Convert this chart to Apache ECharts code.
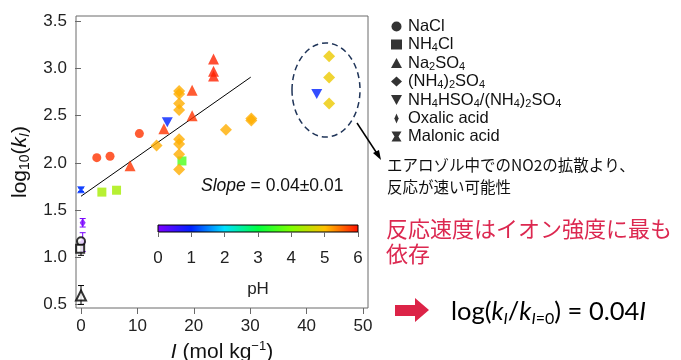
<!DOCTYPE html>
<html><head><meta charset="utf-8">
<script src="https://cdn.jsdelivr.net/npm/echarts@6/dist/echarts.min.js"></script>
<style>html,body{margin:0;padding:0;background:#fff}#c{width:681px;height:360px}</style>
</head><body><div id="c"></div>
<script>
// ---- data: [I (mol/kg), log10(k_I), pH, error] ----
const naclData    = [[2.8,2.055,5.8],[5.15,2.07,5.8],[10.35,2.31,5.8]];
const nh4clData   = [[3.7,1.69,4.3],[6.3,1.71,4.3],[17.9,2.02,3.6]];
const na2so4Data  = [[8.7,1.97,5.8],[14.7,2.36,5.8],[19.7,2.50,5.8],[19.7,2.77,5.8],[23.5,3.10,5.9],[23.5,2.97,5.9],[23.5,2.92,5.9]];
const nh42so4Data = [[13.4,2.185,5.1],[17.4,2.76,5.1],[17.4,2.73,5.1],[17.4,2.63,5.1],[17.4,2.56,5.1],[17.4,2.25,5.1],[17.4,2.20,5.1],[17.4,2.09,5.1],[17.4,1.93,5.1],[25.7,2.35,5.1],[30.2,2.47,5.1],[30.2,2.45,5.1],[44.0,3.13,4.85],[44.0,2.905,4.85],[44.0,2.63,4.85]];
const nh4hso4Data = [[15.3,2.43,1.0],[41.8,2.73,1.0]];
const oxalicData  = [[0.3,1.365,0.05,0.045],[0.3,1.16,0.05,0.1]];
const malonicData = [[0.0,1.715,1.1,0.02]];
const openCircleData   = [[0.0,1.17]];
const openSquareData   = [[-0.15,1.09]];
const openTriangleData = [[0.0,0.595]];
const blackErrData     = [[0.0,1.09,0,0.07],[0.0,0.6,0,0.1]];
const fitX = [0, 30.1];
const fitY = [1.646, 2.908];
const xTicks = [0,10,20,30,40,50];
const yTicks = [0.5,1.0,1.5,2.0,2.5,3.0,3.5];
const phTicks = [0,1,2,3,4,5,6];
const phColors = ['#7f00ff','#0020ff','#00e0ff','#00ff40','#7fff00','#ffc000','#ff1000'];
const seriesNames = ['NaCl','NH4Cl','Na2SO4','(NH4)2SO4','NH4HSO4/(NH4)2SO4','Oxalic acid','Malonic acid'];

const SANS = '"Liberation Sans", Arial, sans-serif';
const JP = '"Noto Sans CJK JP", sans-serif';
const FORM = 'Lato, sans-serif';

function subRich(name){
  let s = '{a|' + name.replace(/(\d)/g, '}{s|$1}{a|') + '}';
  return '{p|}' + s.replace(/\{a\|\}/g, '');
}
function errItem(params, api){
  const x = api.value(0), y = api.value(1), e = api.value(3);
  const t = api.coord([x, y + e]), b = api.coord([x, y - e]);
  const c = api.visual('color');
  const st = {stroke: c, lineWidth: 1};
  return {type:'group', children:[
    {type:'line', shape:{x1:t[0],y1:t[1],x2:b[0],y2:b[1]}, style:st},
    {type:'line', shape:{x1:t[0]-3,y1:t[1],x2:t[0]+3,y2:t[1]}, style:st},
    {type:'line', shape:{x1:b[0]-3,y1:b[1],x2:b[0]+3,y2:b[1]}, style:st}
  ]};
}

const chart = echarts.init(document.getElementById('c'), null, {renderer:'canvas'});
const axisGrey = '#6a6a6a';
const gradStops = phColors.map((c,i)=>({offset:i/(phColors.length-1), color:c}));

const option = {
  backgroundColor: '#fff',
  animation: false,
  textStyle: {fontFamily: SANS},
  grid: [
    {left:76, top:16, width:292, height:292, show:true, borderColor:axisGrey, borderWidth:1,
     backgroundColor:'transparent', outerBoundsMode:'none', containLabel:false},
    {left:158, top:225, width:200, height:7, show:true, borderColor:'#000', borderWidth:1,
     backgroundColor: new echarts.graphic.LinearGradient(0,0,1,0,gradStops), outerBoundsMode:'none', containLabel:false}
  ],
  xAxis: [
    {type:'value', gridIndex:0, min:-0.887, max:50.89,
     axisLine:{show:false}, splitLine:{show:false},
     axisTick:{show:true, inside:false, length:6, lineStyle:{color:axisGrey}, customValues:xTicks},
     axisLabel:{fontSize:17, color:'#222', margin:10, customValues:xTicks, fontFamily:SANS},
     name:'{i|I}{n| (mol kg}{sup|−1}{n|)}', nameLocation:'middle', nameGap:30,
     nameTextStyle:{rich:{
       n:{fontSize:21, fontFamily:SANS, color:'#111', lineHeight:24},
       i:{fontSize:21, fontFamily:SANS, fontStyle:'italic', color:'#111', lineHeight:24},
       sup:{fontSize:13, fontFamily:SANS, color:'#111', verticalAlign:'top', lineHeight:12}}}},
    {type:'value', gridIndex:1, min:0, max:6, interval:1,
     axisLine:{show:false}, splitLine:{show:false},
     axisTick:{show:true, length:5, lineStyle:{color:axisGrey}},
     axisLabel:{fontSize:17, color:'#222', margin:18, fontFamily:SANS},
     name:'pH', nameLocation:'middle', nameGap:49,
     nameTextStyle:{fontSize:17, color:'#222', fontFamily:SANS}}
  ],
  yAxis: [
    {type:'value', gridIndex:0, min:0.462, max:3.556,
     axisLine:{show:false}, splitLine:{show:false},
     axisTick:{show:true, length:6, lineStyle:{color:axisGrey}, customValues:yTicks},
     axisLabel:{fontSize:17, color:'#222', margin:9, customValues:yTicks, fontFamily:SANS,
       formatter: v => v.toFixed(1)},
     name:'{n|log}{s|10}{n|(}{i|k}{si|I}{n|)}', nameLocation:'middle', nameGap:44,
     nameTextStyle:{rich:{
       n:{fontSize:21, fontFamily:SANS, color:'#111', lineHeight:24},
       i:{fontSize:21, fontFamily:SANS, fontStyle:'italic', color:'#111', lineHeight:24},
       s:{fontSize:14, fontFamily:SANS, color:'#111', verticalAlign:'bottom', lineHeight:10},
       si:{fontSize:14, fontFamily:SANS, fontStyle:'italic', color:'#111', verticalAlign:'bottom', lineHeight:10}}}},
    {type:'value', gridIndex:1, min:0, max:1, show:false}
  ],
  visualMap: {
    type:'continuous', show:false, min:0, max:6, dimension:2,
    seriesIndex:[0,1,2,3,4,5,6,7],
    inRange:{color: phColors}
  },
  legend: {
    orient:'vertical', left:386, top:13, itemGap:1, itemWidth:11, itemHeight:10,
    selectedMode:false,
    data: [
      {name:seriesNames[0], icon:'circle', itemStyle:{color:'#000'}},
      {name:seriesNames[1], icon:'rect', itemStyle:{color:'#000'}},
      {name:seriesNames[2], icon:'triangle', itemStyle:{color:'#000'}},
      {name:seriesNames[3], icon:'diamond', itemStyle:{color:'#000'}},
      {name:seriesNames[4], icon:'path://M0,0L10,0L5,9Z', itemStyle:{color:'#000'}},
      {name:seriesNames[5], icon:'path://M3,0L6,7L3,14L0,7Z', itemStyle:{color:'#000'}},
      {name:seriesNames[6], icon:'path://M0,0L10,0L7,5L10,10L0,10L3,5Z', itemStyle:{color:'#000'}}
    ],
    formatter: n => subRich(n),
    textStyle:{rich:{
      p:{width:1, lineHeight:18},
      a:{fontSize:16.5, fontFamily:SANS, color:'#111', lineHeight:18},
      s:{fontSize:11, fontFamily:SANS, color:'#111', verticalAlign:'bottom', lineHeight:8}}}
  },
  series: [
    {name:seriesNames[0], type:'scatter', symbol:'circle', symbolSize:9, data:naclData, z:3},
    {name:seriesNames[1], type:'scatter', symbol:'rect', symbolSize:9, data:nh4clData, z:3},
    {name:seriesNames[2], type:'scatter', symbol:'triangle', symbolSize:11, data:na2so4Data, z:3},
    {name:seriesNames[3], type:'scatter', symbol:'diamond', symbolSize:12, data:nh42so4Data, z:3},
    {name:seriesNames[4], type:'scatter', symbol:'path://M0,0L10,0L5,9Z', symbolSize:[11,10], data:nh4hso4Data, z:3},
    {name:seriesNames[5], type:'scatter', symbol:'diamond', symbolSize:[6,9], data:oxalicData, z:4},
    {name:seriesNames[6], type:'scatter', symbol:'path://M0,0L10,0L7,5L10,10L0,10L3,5Z', symbolSize:[8,7], data:malonicData, z:4},
    {name:'errColored', type:'custom', renderItem:errItem, data:oxalicData.concat(malonicData), z:2},
    {name:'errBlack', type:'custom', renderItem:errItem, itemStyle:{color:'#000'}, data:blackErrData, z:2},
    {name:'openCircle', type:'scatter', symbol:'emptyCircle', symbolSize:8, itemStyle:{color:'#000', borderColor:'#000'}, data:openCircleData, z:5},
    {name:'openSquare', type:'scatter', symbol:'emptyRect', symbolSize:8, itemStyle:{color:'#000', borderColor:'#000'}, data:openSquareData, z:5},
    {name:'openTriangle', type:'scatter', symbol:'emptyTriangle', symbolSize:10, itemStyle:{color:'#000', borderColor:'#000'}, data:openTriangleData, z:5},
    {name:'fit', type:'line', data:fitX.map((x,i)=>[x,fitY[i]]), symbol:'none',
     lineStyle:{color:'#000', width:1}, z:2, silent:true}
  ],
  graphic: [
    {type:'text', x:201, y:186, style:{
      text:'{i|Slope}{n| = 0.04±0.01}', verticalAlign:'middle',
      rich:{i:{fontSize:17.5, fontStyle:'italic', fontFamily:SANS, fill:'#111'}, n:{fontSize:17.5, fontFamily:SANS, fill:'#111'}}}},
    {type:'ellipse', shape:{cx:326, cy:90, rx:34, ry:47},
     style:{fill:'none', stroke:'#1f3458', lineWidth:1.5, lineDash:[6,4]}},
    {type:'line', shape:{x1:357, y1:123, x2:378, y2:155}, style:{stroke:'#000', lineWidth:1.5}},
    {type:'polygon', shape:{points:[[381,160],[373,153],[379,150]]}, style:{fill:'#000'}},
    {type:'text', x:387, y:165, style:{text:'エアロゾル中でのNO2の拡散より、', font:'15.5px '+JP, fill:'#111', verticalAlign:'middle'}},
    {type:'text', x:387, y:187, style:{text:'反応が速い可能性', font:'15.5px '+JP, fill:'#111', verticalAlign:'middle'}},
    {type:'text', x:386, y:229, style:{text:'反応速度はイオン強度に最も', font:'22px '+JP, fill:'#dc2850', verticalAlign:'middle'}},
    {type:'text', x:386, y:254, style:{text:'依存', font:'22px '+JP, fill:'#dc2850', verticalAlign:'middle'}},
    {type:'polygon', shape:{points:[[395,305],[415,305],[415,298],[429,310],[415,322],[415,316],[395,316]]}, style:{fill:'#dc2347'}},
    {type:'text', x:451, y:312, style:{
      text:'{n|log(}{i|k}{si|I}{n|/}{i|k}{si|I}{ss|=0}{n|) = 0.04}{i|I}', verticalAlign:'middle',
      rich:{
        n:{fontSize:25.5, fontFamily:FORM, fill:'#000', lineHeight:30},
        i:{fontSize:25.5, fontFamily:FORM, fontStyle:'italic', fill:'#000', lineHeight:30},
        si:{fontSize:16, fontFamily:FORM, fontStyle:'italic', fill:'#000', verticalAlign:'bottom', lineHeight:11},
        ss:{fontSize:16, fontFamily:FORM, fill:'#000', verticalAlign:'bottom', lineHeight:11}}}}
  ]
};
chart.setOption(option);
</script></body></html>
